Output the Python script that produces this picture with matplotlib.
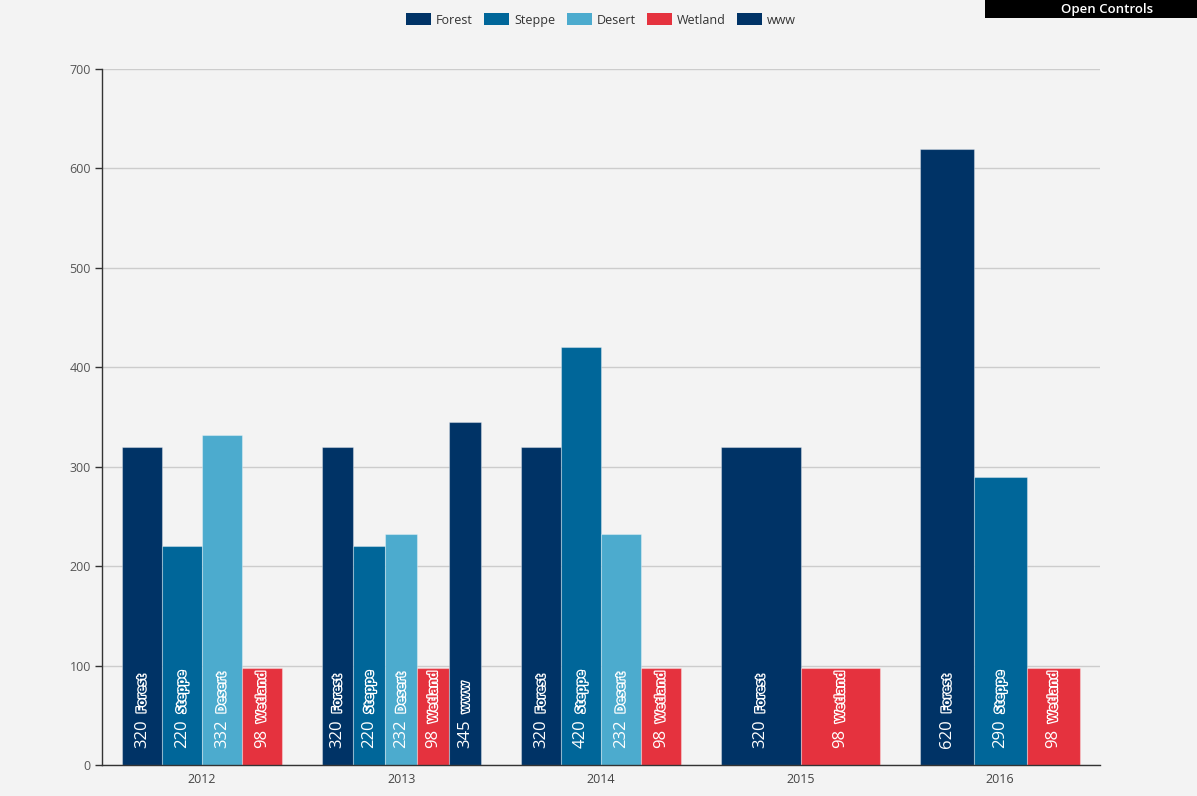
import matplotlib
matplotlib.use("Agg")
import matplotlib.pyplot as plt
import matplotlib.patheffects as pe
from matplotlib.patches import Patch, Rectangle

# ── Data ───────────────────────────────────────────────────────────────────────
YEARS   = ["2012", "2013", "2014", "2015", "2016"]
SERIES  = ["Forest", "Steppe", "Desert", "Wetland", "www"]
FOREST  = [320, 320, 320, 320, 620]
STEPPE  = [220, 220, 420, None, 290]
DESERT  = [332, 232, 232, None, None]
WETLAND = [98, 98, 98, 98, 98]
WWW     = [None, 345, None, None, None]

# ── Style ──────────────────────────────────────────────────────────────────────
COLORS   = ["#003366", "#006699", "#4cabce", "#e5323e", "#003366"]
BG       = "#f3f3f3"
GRID     = "#cccccc"
AXIS     = "#333333"
FONT     = ["Open Sans", "DejaVu Sans"]
GROUP_W  = 0.8

plt.rcParams["font.family"] = FONT

fig = plt.figure(figsize=(11.97, 7.96), dpi=100, facecolor=BG)
ax = fig.add_axes([102 / 1197, 31 / 796, 998 / 1197, 696 / 796], facecolor=BG)

values = [FOREST, STEPPE, DESERT, WETLAND, WWW]

for i, year in enumerate(YEARS):
    # missing series take no room, the rest share the group width
    present = [s for s in range(len(SERIES)) if values[s][i] is not None]
    k = len(present)
    w = GROUP_W / k
    for j, s in enumerate(present):
        v = values[s][i]
        x = i - GROUP_W / 2 + (j + 0.5) * w
        ax.bar(x, v, width=w, color=COLORS[s],
               edgecolor=(1, 1, 1, 0.35), linewidth=0.8, zorder=3)
        val = ax.annotate(str(v), xy=(x, 0), xytext=(0, 12),
                          textcoords="offset points", rotation=90,
                          ha="center", va="bottom", fontsize=12,
                          color="white", zorder=5)
        ax.annotate(SERIES[s], xy=(0.5, 1), xycoords=val,
                    xytext=(0, 4.5), textcoords="offset points", rotation=90,
                    ha="center", va="bottom", fontsize=9, fontweight="bold",
                    color=COLORS[s], zorder=5,
                    path_effects=[pe.Stroke(linewidth=1.8, foreground="white"),
                                  pe.Normal()])

ax.set_xlim(-0.5, len(YEARS) - 0.5)
ax.set_ylim(0, 700)
ax.set_yticks(range(0, 701, 100))
ax.set_xticks(range(len(YEARS)))
ax.set_xticklabels(YEARS)
ax.tick_params(axis="x", length=0, pad=6, labelsize=9, labelcolor="#444444")
ax.tick_params(axis="y", length=5, width=1, color=AXIS, pad=3,
               labelsize=9, labelcolor="#555555")
ax.grid(axis="y", color=GRID, lw=1, zorder=0)
for side in ("top", "right"):
    ax.spines[side].set_visible(False)
for side in ("left", "bottom"):
    ax.spines[side].set_color(AXIS)
    ax.spines[side].set_linewidth(1)
ax.spines["bottom"].set_zorder(6)

handles = [Patch(facecolor=c, edgecolor="none", label=n)
           for c, n in zip(COLORS, SERIES)]
fig.legend(handles=handles, loc="center", bbox_to_anchor=(601 / 1197, 1 - 20 / 796),
           ncol=5, frameon=False, fontsize=9, labelcolor="#333333",
           handlelength=2.0, handleheight=1.1, handletextpad=0.4,
           columnspacing=0.9)

# "Open Controls" box at the top right
fig.patches.append(Rectangle((985 / 1197, 1 - 18 / 796), 212 / 1197, 18 / 796,
                             transform=fig.transFigure, facecolor="black",
                             edgecolor="none", zorder=10))
fig.text(1107 / 1197, 1 - 9 / 796, "Open Controls", color="white",
         fontsize=9.5, fontweight="semibold", ha="center", va="center", zorder=11)

fig.savefig("out.png", dpi=100, facecolor=BG)
